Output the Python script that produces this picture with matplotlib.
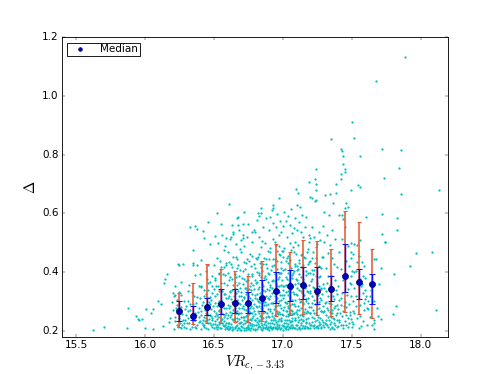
import numpy as np
import matplotlib
matplotlib.use("Agg")
import matplotlib.pyplot as plt

plt.style.use('classic')

# bin centres and statistics per bin
bin_mid = [16.25, 16.35, 16.45, 16.55, 16.65, 16.75, 16.85, 16.95,
           17.05, 17.15, 17.25, 17.35, 17.45, 17.55, 17.65]
median = [0.266, 0.250, 0.282, 0.290, 0.295, 0.293, 0.312, 0.337,
          0.352, 0.355, 0.335, 0.343, 0.385, 0.367, 0.359]
# inner (blue) range
inner_lo = [0.234, 0.236, 0.253, 0.257, 0.259, 0.259, 0.268, 0.296,
            0.302, 0.308, 0.291, 0.300, 0.333, 0.307, 0.290]
inner_hi = [0.302, 0.286, 0.310, 0.343, 0.341, 0.333, 0.373, 0.401,
            0.407, 0.418, 0.418, 0.386, 0.494, 0.409, 0.393]
# outer (red) range
outer_lo = [0.214, 0.223, 0.227, 0.227, 0.230, 0.230, 0.234, 0.250,
            0.253, 0.257, 0.253, 0.250, 0.264, 0.257, 0.244]
outer_hi = [0.329, 0.363, 0.427, 0.409, 0.404, 0.388, 0.438, 0.494,
            0.469, 0.511, 0.506, 0.477, 0.609, 0.570, 0.480]

# individual objects (VR, Delta)
sparse_pts = [
    (15.62, 0.203), (15.70, 0.213), (15.87, 0.208), (15.88, 0.278), (15.934, 0.25),
    (15.951, 0.239), (15.978, 0.24), (15.96, 0.236), (16.002, 0.208), (16.007, 0.273),
    (16.044, 0.261), (16.055, 0.273), (16.06, 0.205), (16.092, 0.301), (16.116, 0.291),
    (16.128, 0.216), (16.14, 0.363), (16.146, 0.375), (16.16, 0.394), (16.177, 0.231),
    (16.184, 0.245), (16.196, 0.299), (16.2, 0.327), (16.218, 0.322), (16.245, 0.424),
    (16.274, 0.427), (16.349, 0.432), (16.349, 0.423), (16.613, 0.631), (16.626, 0.52),
    (16.64, 0.537), (16.672, 0.588), (16.672, 0.56), (16.694, 0.508), (16.71, 0.564),
    (16.713, 0.515), (16.715, 0.604), (16.776, 0.537), (16.822, 0.603), (16.829, 0.59),
    (16.841, 0.62), (16.926, 0.63), (16.931, 0.617), (16.975, 0.651), (17.096, 0.682),
    (17.106, 0.627), (17.113, 0.67), (17.123, 0.622), (17.189, 0.707), (17.196, 0.656),
    (17.215, 0.652), (17.232, 0.717), (17.232, 0.642), (17.24, 0.752), (17.24, 0.644),
    (17.244, 0.699), (17.244, 0.679), (17.298, 0.604), (17.307, 0.663), (17.332, 0.596),
    (17.341, 0.665), (17.349, 0.853), (17.365, 0.635), (17.383, 0.669), (17.385, 0.70),
    (17.407, 0.595), (17.419, 0.82), (17.419, 0.734), (17.419, 0.718), (17.429, 0.814),
    (17.429, 0.595), (17.434, 0.769), (17.438, 0.797), (17.448, 0.741), (17.448, 0.617),
    (17.45, 0.751), (17.458, 0.637), (17.47, 0.621), (17.494, 0.68), (17.504, 0.912),
    (17.514, 0.858), (17.545, 0.698), (17.557, 0.797), (17.557, 0.69), (17.56, 0.508),
    (17.603, 0.588), (17.676, 1.05), (17.717, 0.82), (17.717, 0.529), (17.722, 0.597),
    (17.732, 0.72), (17.739, 0.503), (17.742, 0.503), (17.826, 0.543), (17.829, 0.583),
    (17.841, 0.755), (17.856, 0.815), (17.86, 0.665), (17.889, 1.133), (18.13, 0.679),
    (17.967, 0.466), (18.081, 0.469), (17.924, 0.421), (17.807, 0.394), (17.712, 0.414),
    (17.676, 0.444), (17.659, 0.443), (17.698, 0.36), (17.819, 0.283), (17.802, 0.258),
    (18.113, 0.269), (17.693, 0.249), (17.71, 0.239), (17.662, 0.235), (17.649, 0.219),
    (17.662, 0.206), (17.492, 0.50), (17.516, 0.495), (17.54, 0.491), (17.492, 0.467),
    (17.511, 0.46), (17.492, 0.447), (17.536, 0.433), (17.589, 0.421), (17.576, 0.435),
    (17.504, 0.404), (17.516, 0.399), (17.492, 0.387), (17.584, 0.387), (17.56, 0.376),
    (17.492, 0.361), (17.516, 0.344), (17.572, 0.36), (17.596, 0.339), (17.584, 0.327),
    (17.601, 0.319), (17.492, 0.32), (17.511, 0.302), (17.531, 0.286), (17.511, 0.268),
    (17.596, 0.307), (17.589, 0.293), (17.608, 0.276), (17.56, 0.25), (17.504, 0.231),
    (17.499, 0.212), (17.62, 0.275), (17.633, 0.318),
]

core_pts = [
    # 16.2 - 16.3
    (16.21, 0.205), (16.22, 0.232), (16.23, 0.262), (16.24, 0.214), (16.25, 0.245), (16.26, 0.281),
    (16.27, 0.221), (16.28, 0.302), (16.29, 0.236), (16.21, 0.318), (16.23, 0.289), (16.26, 0.209),
    (16.27, 0.257), (16.28, 0.226), (16.22, 0.352), (16.25, 0.331), (16.29, 0.273), (16.24, 0.428),
    (16.26, 0.366), (16.28, 0.212), (16.20, 0.271), (16.23, 0.219),
    # 16.3 - 16.4
    (16.30, 0.208), (16.31, 0.243), (16.32, 0.226), (16.33, 0.269), (16.34, 0.212), (16.35, 0.291),
    (16.36, 0.236), (16.37, 0.254), (16.38, 0.218), (16.39, 0.276), (16.31, 0.302), (16.33, 0.205),
    (16.34, 0.331), (16.36, 0.262), (16.37, 0.210), (16.38, 0.314), (16.39, 0.229), (16.32, 0.357),
    (16.35, 0.224), (16.36, 0.389), (16.38, 0.425), (16.33, 0.552), (16.36, 0.557), (16.38, 0.548),
    (16.35, 0.475), (16.31, 0.266), (16.39, 0.351), (16.34, 0.245), (16.37, 0.296), (16.30, 0.283),
    # 16.4 - 16.5
    (16.40, 0.232), (16.41, 0.205), (16.41, 0.266), (16.42, 0.298), (16.42, 0.221), (16.43, 0.248),
    (16.43, 0.339), (16.44, 0.210), (16.44, 0.284), (16.45, 0.237), (16.45, 0.315), (16.46, 0.255),
    (16.46, 0.207), (16.47, 0.366), (16.47, 0.228), (16.48, 0.273), (16.48, 0.304), (16.49, 0.214),
    (16.49, 0.245), (16.40, 0.392), (16.41, 0.442), (16.42, 0.541), (16.43, 0.515), (16.44, 0.404),
    (16.45, 0.376), (16.46, 0.424), (16.47, 0.291), (16.48, 0.218), (16.49, 0.328), (16.46, 0.338),
    (16.44, 0.260), (16.42, 0.236), (16.40, 0.311), (16.45, 0.271), (16.47, 0.495), (16.49, 0.387),
    (16.43, 0.219), (16.48, 0.249), (16.41, 0.354), (16.46, 0.570),
    # 16.5 - 16.6
    (16.50, 0.211), (16.50, 0.268), (16.51, 0.233), (16.51, 0.318), (16.52, 0.205), (16.52, 0.286),
    (16.53, 0.247), (16.53, 0.352), (16.54, 0.223), (16.54, 0.301), (16.55, 0.262), (16.55, 0.209),
    (16.56, 0.334), (16.56, 0.241), (16.57, 0.215), (16.57, 0.279), (16.58, 0.391), (16.58, 0.254),
    (16.59, 0.227), (16.59, 0.312), (16.50, 0.425), (16.51, 0.374), (16.52, 0.447), (16.53, 0.212),
    (16.54, 0.268), (16.55, 0.418), (16.56, 0.226), (16.57, 0.363), (16.58, 0.205), (16.59, 0.432),
    (16.50, 0.342), (16.52, 0.239), (16.54, 0.395), (16.56, 0.293), (16.58, 0.324), (16.51, 0.522),
    (16.53, 0.498), (16.55, 0.563), (16.57, 0.475), (16.59, 0.515), (16.52, 0.603), (16.56, 0.525),
    (16.58, 0.488), (16.53, 0.296), (16.55, 0.238), (16.57, 0.247), (16.59, 0.262), (16.51, 0.251),
    (16.54, 0.336), (16.58, 0.218),
    # 16.6 - 16.7
    (16.60, 0.205), (16.60, 0.252), (16.60, 0.311), (16.61, 0.228), (16.61, 0.279), (16.61, 0.374),
    (16.62, 0.212), (16.62, 0.264), (16.62, 0.336), (16.63, 0.241), (16.63, 0.298), (16.63, 0.418),
    (16.64, 0.207), (16.64, 0.272), (16.64, 0.356), (16.65, 0.231), (16.65, 0.288), (16.65, 0.395),
    (16.66, 0.215), (16.66, 0.259), (16.66, 0.327), (16.67, 0.243), (16.67, 0.306), (16.67, 0.443),
    (16.68, 0.209), (16.68, 0.276), (16.68, 0.364), (16.69, 0.226), (16.69, 0.292), (16.69, 0.408),
    (16.60, 0.468), (16.62, 0.512), (16.63, 0.559), (16.64, 0.531), (16.66, 0.494), (16.68, 0.543),
    (16.69, 0.478), (16.61, 0.433), (16.65, 0.345), (16.67, 0.218), (16.62, 0.384), (16.64, 0.236),
    (16.66, 0.384), (16.68, 0.241), (16.60, 0.227), (16.63, 0.203), (16.65, 0.264), (16.67, 0.268),
    (16.69, 0.203), (16.61, 0.319), (16.66, 0.452), (16.68, 0.318), (16.64, 0.453), (16.62, 0.285),
    (16.67, 0.356), (16.69, 0.345), (16.63, 0.339), (16.65, 0.212), (16.61, 0.205), (16.67, 0.583),
    # 16.7 - 16.8
    (16.70, 0.204), (16.70, 0.261), (16.70, 0.333), (16.71, 0.222), (16.71, 0.286), (16.71, 0.402),
    (16.72, 0.208), (16.72, 0.247), (16.72, 0.311), (16.73, 0.233), (16.73, 0.272), (16.73, 0.371),
    (16.74, 0.214), (16.74, 0.295), (16.74, 0.446), (16.75, 0.238), (16.75, 0.319), (16.75, 0.206),
    (16.76, 0.226), (16.76, 0.264), (16.76, 0.352), (16.77, 0.211), (16.77, 0.283), (16.77, 0.421),
    (16.78, 0.244), (16.78, 0.304), (16.78, 0.388), (16.79, 0.219), (16.79, 0.268), (16.79, 0.341),
    (16.70, 0.467), (16.72, 0.489), (16.74, 0.518), (16.75, 0.565), (16.76, 0.462), (16.78, 0.503),
    (16.79, 0.544), (16.71, 0.361), (16.73, 0.204), (16.75, 0.392), (16.77, 0.237), (16.79, 0.426),
    (16.70, 0.229), (16.72, 0.378), (16.74, 0.253), (16.76, 0.203), (16.78, 0.215), (16.71, 0.248),
    (16.73, 0.324), (16.75, 0.276), (16.77, 0.339), (16.79, 0.292), (16.72, 0.274), (16.74, 0.338),
    (16.76, 0.297), (16.78, 0.456), (16.73, 0.432), (16.71, 0.526), (16.77, 0.362), (16.75, 0.221),
    # 16.8 - 16.9
    (16.80, 0.207), (16.80, 0.256), (16.80, 0.322), (16.80, 0.414), (16.81, 0.229), (16.81, 0.281),
    (16.81, 0.367), (16.82, 0.213), (16.82, 0.268), (16.82, 0.343), (16.82, 0.452), (16.83, 0.236),
    (16.83, 0.298), (16.83, 0.391), (16.84, 0.205), (16.84, 0.253), (16.84, 0.316), (16.84, 0.487),
    (16.85, 0.221), (16.85, 0.277), (16.85, 0.358), (16.86, 0.243), (16.86, 0.303), (16.86, 0.428),
    (16.87, 0.211), (16.87, 0.264), (16.87, 0.334), (16.88, 0.232), (16.88, 0.289), (16.88, 0.376),
    (16.89, 0.208), (16.89, 0.251), (16.89, 0.312), (16.89, 0.471), (16.80, 0.536), (16.81, 0.578),
    (16.83, 0.521), (16.84, 0.603), (16.85, 0.507), (16.86, 0.552), (16.87, 0.498), (16.88, 0.586),
    (16.81, 0.444), (16.83, 0.215), (16.85, 0.403), (16.87, 0.231), (16.89, 0.398), (16.82, 0.223),
    (16.84, 0.382), (16.86, 0.212), (16.88, 0.218), (16.80, 0.238), (16.83, 0.262), (16.85, 0.246),
    (16.87, 0.385), (16.89, 0.274), (16.81, 0.326), (16.86, 0.352), (16.88, 0.445), (16.84, 0.276),
    (16.82, 0.301), (16.87, 0.297), (16.85, 0.204), (16.83, 0.348), (16.86, 0.268),
    # 16.9 - 17.0
    (16.90, 0.203), (16.90, 0.248), (16.90, 0.307), (16.90, 0.392), (16.91, 0.226), (16.91, 0.275),
    (16.91, 0.349), (16.91, 0.468), (16.92, 0.211), (16.92, 0.262), (16.92, 0.327), (16.92, 0.421),
    (16.93, 0.237), (16.93, 0.293), (16.93, 0.372), (16.93, 0.512), (16.94, 0.208), (16.94, 0.254),
    (16.94, 0.318), (16.94, 0.446), (16.95, 0.229), (16.95, 0.284), (16.95, 0.361), (16.95, 0.492),
    (16.96, 0.216), (16.96, 0.267), (16.96, 0.338), (16.96, 0.409), (16.97, 0.241), (16.97, 0.301),
    (16.97, 0.384), (16.97, 0.527), (16.98, 0.205), (16.98, 0.258), (16.98, 0.322), (16.98, 0.459),
    (16.99, 0.233), (16.99, 0.279), (16.99, 0.355), (16.99, 0.434), (16.90, 0.542), (16.91, 0.587),
    (16.92, 0.611), (16.93, 0.568), (16.95, 0.553), (16.96, 0.597), (16.98, 0.573), (16.99, 0.538),
    (16.90, 0.443), (16.92, 0.226), (16.94, 0.392), (16.96, 0.224), (16.98, 0.398), (16.91, 0.214),
    (16.93, 0.214), (16.95, 0.211), (16.97, 0.218), (16.99, 0.209), (16.90, 0.338), (16.92, 0.371),
    (16.94, 0.283), (16.96, 0.471), (16.98, 0.288), (16.91, 0.318), (16.93, 0.446), (16.95, 0.329),
    (16.97, 0.352), (16.99, 0.398), (16.94, 0.501), (16.97, 0.463),
    # 17.0 - 17.1
    (17.00, 0.204), (17.00, 0.252), (17.00, 0.313), (17.00, 0.406), (17.01, 0.227), (17.01, 0.281),
    (17.01, 0.354), (17.01, 0.482), (17.02, 0.212), (17.02, 0.266), (17.02, 0.332), (17.02, 0.437),
    (17.03, 0.238), (17.03, 0.296), (17.03, 0.378), (17.03, 0.521), (17.04, 0.207), (17.04, 0.257),
    (17.04, 0.321), (17.04, 0.456), (17.05, 0.231), (17.05, 0.288), (17.05, 0.364), (17.05, 0.499),
    (17.06, 0.218), (17.06, 0.271), (17.06, 0.342), (17.06, 0.415), (17.07, 0.244), (17.07, 0.305),
    (17.07, 0.389), (17.07, 0.533), (17.08, 0.209), (17.08, 0.262), (17.08, 0.326), (17.08, 0.468),
    (17.09, 0.235), (17.09, 0.284), (17.09, 0.358), (17.09, 0.428), (17.00, 0.558), (17.01, 0.604),
    (17.02, 0.575), (17.04, 0.592), (17.05, 0.562), (17.06, 0.615), (17.08, 0.551), (17.09, 0.583),
    (17.00, 0.354), (17.02, 0.228), (17.04, 0.396), (17.06, 0.232), (17.08, 0.402), (17.01, 0.216),
    (17.03, 0.215), (17.05, 0.213), (17.07, 0.219), (17.09, 0.211), (17.00, 0.452), (17.02, 0.384),
    (17.04, 0.284), (17.06, 0.476), (17.08, 0.291), (17.01, 0.321), (17.03, 0.447), (17.05, 0.331),
    (17.07, 0.352), (17.09, 0.502), (17.03, 0.268), (17.07, 0.268),
    # 17.1 - 17.2
    (17.10, 0.206), (17.10, 0.258), (17.10, 0.321), (17.10, 0.419), (17.11, 0.229), (17.11, 0.286),
    (17.11, 0.362), (17.11, 0.491), (17.12, 0.213), (17.12, 0.269), (17.12, 0.338), (17.12, 0.442),
    (17.13, 0.241), (17.13, 0.302), (17.13, 0.384), (17.14, 0.208), (17.14, 0.255), (17.14, 0.327),
    (17.14, 0.463), (17.15, 0.232), (17.15, 0.291), (17.15, 0.371), (17.15, 0.518), (17.16, 0.217),
    (17.16, 0.274), (17.16, 0.346), (17.17, 0.239), (17.17, 0.309), (17.17, 0.402), (17.18, 0.211),
    (17.18, 0.264), (17.18, 0.333), (17.18, 0.478), (17.19, 0.228), (17.19, 0.281), (17.19, 0.355),
    (17.10, 0.545), (17.12, 0.572), (17.13, 0.538), (17.14, 0.596), (17.16, 0.553), (17.17, 0.587),
    (17.19, 0.527), (17.11, 0.412), (17.13, 0.219), (17.15, 0.425), (17.17, 0.226), (17.19, 0.433),
    (17.12, 0.394), (17.14, 0.384), (17.16, 0.448), (17.18, 0.397), (17.11, 0.247), (17.13, 0.458),
    (17.15, 0.251), (17.17, 0.352), (17.19, 0.503), (17.10, 0.372), (17.16, 0.211), (17.18, 0.295),
    # 17.2 - 17.3
    (17.20, 0.208), (17.20, 0.262), (17.20, 0.334), (17.20, 0.437), (17.21, 0.231), (17.21, 0.293),
    (17.21, 0.378), (17.22, 0.215), (17.22, 0.271), (17.22, 0.349), (17.22, 0.468), (17.23, 0.243),
    (17.23, 0.306), (17.23, 0.406), (17.24, 0.212), (17.24, 0.259), (17.24, 0.324), (17.25, 0.236),
    (17.25, 0.289), (17.25, 0.362), (17.25, 0.495), (17.26, 0.219), (17.26, 0.276), (17.26, 0.421),
    (17.27, 0.245), (17.27, 0.312), (17.27, 0.388), (17.28, 0.209), (17.28, 0.266), (17.28, 0.341),
    (17.29, 0.229), (17.29, 0.284), (17.29, 0.452), (17.20, 0.516), (17.21, 0.552), (17.23, 0.521),
    (17.24, 0.487), (17.26, 0.538), (17.27, 0.508), (17.29, 0.558), (17.21, 0.448), (17.23, 0.218),
    (17.25, 0.214), (17.27, 0.223), (17.22, 0.392), (17.24, 0.386), (17.26, 0.354), (17.28, 0.413),
    (17.24, 0.448), (17.28, 0.305),
    # 17.3 - 17.4
    (17.30, 0.212), (17.30, 0.268), (17.30, 0.345), (17.31, 0.236), (17.31, 0.298), (17.31, 0.414),
    (17.32, 0.218), (17.32, 0.279), (17.32, 0.362), (17.33, 0.247), (17.33, 0.318), (17.33, 0.465),
    (17.34, 0.207), (17.34, 0.263), (17.34, 0.337), (17.35, 0.229), (17.35, 0.291), (17.35, 0.391),
    (17.36, 0.214), (17.36, 0.272), (17.36, 0.448), (17.37, 0.241), (17.37, 0.309), (17.38, 0.221),
    (17.38, 0.284), (17.38, 0.372), (17.39, 0.235), (17.39, 0.326), (17.30, 0.504), (17.32, 0.528),
    (17.34, 0.492), (17.36, 0.545), (17.38, 0.512), (17.33, 0.387), (17.37, 0.426), (17.39, 0.418),
    (17.31, 0.224), (17.35, 0.248), (17.37, 0.205), (17.39, 0.262),
    # 17.4 - 17.5
    (17.40, 0.215), (17.40, 0.274), (17.40, 0.352), (17.41, 0.238), (17.41, 0.306), (17.42, 0.221),
    (17.42, 0.288), (17.42, 0.412), (17.43, 0.249), (17.43, 0.327), (17.44, 0.209), (17.44, 0.266),
    (17.44, 0.374), (17.45, 0.232), (17.45, 0.298), (17.46, 0.218), (17.46, 0.281), (17.46, 0.438),
    (17.47, 0.244), (17.47, 0.341), (17.48, 0.226), (17.48, 0.292), (17.49, 0.253), (17.49, 0.362),
    (17.41, 0.468), (17.43, 0.512), (17.45, 0.552), (17.47, 0.489), (17.44, 0.582), (17.48, 0.421),
    # 17.5 - 17.7
    (17.51, 0.223), (17.52, 0.261), (17.53, 0.318), (17.54, 0.245), (17.55, 0.209), (17.56, 0.287),
    (17.57, 0.352), (17.58, 0.232), (17.59, 0.271), (17.61, 0.218), (17.62, 0.302), (17.63, 0.246),
    (17.64, 0.338), (17.66, 0.226), (17.68, 0.278), (17.53, 0.402), (17.57, 0.216), (17.60, 0.381),
    (17.55, 0.456), (17.66, 0.301),
]

# second pass over the crowded part of the cloud
dense_pts = [
    (16.215, 0.248), (16.235, 0.305), (16.255, 0.226), (16.275, 0.238), (16.295, 0.252),
    (16.305, 0.228), (16.325, 0.292), (16.345, 0.232), (16.365, 0.214), (16.385, 0.263),
    (16.225, 0.276), (16.265, 0.323), (16.315, 0.336), (16.355, 0.318), (16.395, 0.247),
    (16.405, 0.252), (16.415, 0.289), (16.425, 0.214), (16.435, 0.271), (16.445, 0.325),
    (16.455, 0.228), (16.465, 0.297), (16.475, 0.253), (16.485, 0.351), (16.495, 0.222),
    (16.405, 0.349), (16.415, 0.226), (16.425, 0.318), (16.435, 0.233), (16.445, 0.244),
    (16.455, 0.362), (16.465, 0.241), (16.475, 0.314), (16.485, 0.236), (16.495, 0.284),
    (16.505, 0.224), (16.505, 0.296), (16.515, 0.262), (16.515, 0.351), (16.525, 0.218),
    (16.525, 0.324), (16.535, 0.271), (16.535, 0.397), (16.545, 0.246), (16.545, 0.209),
    (16.555, 0.305), (16.555, 0.362), (16.565, 0.258), (16.565, 0.218), (16.575, 0.326),
    (16.575, 0.234), (16.585, 0.279), (16.585, 0.423), (16.595, 0.243), (16.595, 0.357),
    (16.505, 0.381), (16.525, 0.255), (16.545, 0.437), (16.565, 0.392), (16.585, 0.212),
    (16.515, 0.214), (16.535, 0.231), (16.555, 0.281), (16.575, 0.417), (16.595, 0.208),
    (16.605, 0.217), (16.605, 0.289), (16.605, 0.398), (16.615, 0.246), (16.615, 0.331),
    (16.625, 0.224), (16.625, 0.307), (16.625, 0.427), (16.635, 0.262), (16.635, 0.214),
    (16.635, 0.376), (16.645, 0.239), (16.645, 0.318), (16.655, 0.209), (16.655, 0.276),
    (16.655, 0.367), (16.665, 0.233), (16.665, 0.296), (16.665, 0.414), (16.675, 0.211),
    (16.675, 0.257), (16.675, 0.336), (16.685, 0.228), (16.685, 0.293), (16.685, 0.386),
    (16.695, 0.247), (16.695, 0.318), (16.695, 0.216), (16.615, 0.209), (16.645, 0.274),
    (16.655, 0.243), (16.665, 0.204), (16.675, 0.425), (16.685, 0.262), (16.625, 0.252),
    (16.705, 0.212), (16.705, 0.279), (16.705, 0.381), (16.715, 0.238), (16.715, 0.316),
    (16.715, 0.203), (16.725, 0.226), (16.725, 0.291), (16.725, 0.412), (16.735, 0.251),
    (16.735, 0.211), (16.735, 0.347), (16.745, 0.231), (16.745, 0.268), (16.745, 0.374),
    (16.755, 0.209), (16.755, 0.256), (16.755, 0.341), (16.765, 0.239), (16.765, 0.312),
    (16.765, 0.218), (16.775, 0.224), (16.775, 0.262), (16.775, 0.394), (16.785, 0.207),
    (16.785, 0.278), (16.785, 0.355), (16.795, 0.236), (16.795, 0.311), (16.795, 0.204),
    (16.705, 0.305), (16.725, 0.347), (16.745, 0.213), (16.765, 0.276), (16.785, 0.249),
    (16.715, 0.433), (16.735, 0.292), (16.755, 0.437), (16.775, 0.324), (16.795, 0.372),
    (16.805, 0.218), (16.805, 0.284), (16.805, 0.364), (16.815, 0.206), (16.815, 0.245),
    (16.815, 0.309), (16.825, 0.234), (16.825, 0.284), (16.825, 0.397), (16.835, 0.212),
    (16.835, 0.251), (16.835, 0.327), (16.845, 0.227), (16.845, 0.296), (16.845, 0.418),
    (16.855, 0.209), (16.855, 0.262), (16.855, 0.339), (16.865, 0.224), (16.865, 0.287),
    (16.865, 0.381), (16.875, 0.214), (16.875, 0.248), (16.875, 0.318), (16.885, 0.206),
    (16.885, 0.261), (16.885, 0.343), (16.895, 0.228), (16.895, 0.291), (16.895, 0.367),
    (16.805, 0.448), (16.825, 0.462), (16.845, 0.239), (16.865, 0.448), (16.885, 0.413),
    (16.815, 0.401), (16.835, 0.431), (16.855, 0.298), (16.875, 0.426), (16.895, 0.213),
    (16.905, 0.215), (16.905, 0.268), (16.905, 0.356), (16.905, 0.482), (16.915, 0.237),
    (16.915, 0.294), (16.915, 0.407), (16.925, 0.206), (16.925, 0.251), (16.925, 0.344),
    (16.935, 0.224), (16.935, 0.274), (16.935, 0.424), (16.945, 0.238), (16.945, 0.302),
    (16.945, 0.368), (16.955, 0.207), (16.955, 0.259), (16.955, 0.313), (16.955, 0.437),
    (16.965, 0.233), (16.965, 0.289), (16.965, 0.378), (16.975, 0.212), (16.975, 0.264),
    (16.975, 0.331), (16.975, 0.488), (16.985, 0.236), (16.985, 0.304), (16.985, 0.415),
    (16.995, 0.219), (16.995, 0.258), (16.995, 0.321), (16.995, 0.473), (16.915, 0.208),
    (16.925, 0.294), (16.935, 0.332), (16.945, 0.213), (16.955, 0.352), (16.965, 0.211),
    (16.975, 0.396), (16.985, 0.243), (16.995, 0.372), (16.935, 0.244), (16.965, 0.256),
    (17.005, 0.216), (17.005, 0.269), (17.005, 0.338), (17.005, 0.471), (17.015, 0.238),
    (17.015, 0.297), (17.015, 0.412), (17.025, 0.205), (17.025, 0.249), (17.025, 0.356),
    (17.035, 0.224), (17.035, 0.276), (17.035, 0.431), (17.045, 0.238), (17.045, 0.303),
    (17.045, 0.372), (17.055, 0.208), (17.055, 0.261), (17.055, 0.316), (17.055, 0.441),
    (17.065, 0.234), (17.065, 0.291), (17.065, 0.381), (17.075, 0.212), (17.075, 0.256),
    (17.075, 0.332), (17.075, 0.484), (17.085, 0.237), (17.085, 0.306), (17.085, 0.419),
    (17.095, 0.221), (17.095, 0.264), (17.095, 0.324), (17.095, 0.461), (17.015, 0.208),
    (17.025, 0.296), (17.035, 0.335), (17.045, 0.214), (17.055, 0.352), (17.065, 0.211),
    (17.075, 0.398), (17.085, 0.245), (17.095, 0.378), (17.035, 0.249), (17.065, 0.258),
    (17.105, 0.218), (17.105, 0.272), (17.105, 0.344), (17.115, 0.238), (17.115, 0.309),
    (17.115, 0.431), (17.125, 0.206), (17.125, 0.253), (17.125, 0.358), (17.135, 0.226),
    (17.135, 0.279), (17.135, 0.416), (17.145, 0.237), (17.145, 0.294), (17.145, 0.376),
    (17.155, 0.209), (17.155, 0.263), (17.155, 0.321), (17.155, 0.452), (17.165, 0.231),
    (17.165, 0.302), (17.165, 0.389), (17.175, 0.214), (17.175, 0.266), (17.175, 0.337),
    (17.185, 0.242), (17.185, 0.311), (17.185, 0.426), (17.195, 0.219), (17.195, 0.261),
    (17.195, 0.398), (17.115, 0.211), (17.125, 0.299), (17.135, 0.334), (17.145, 0.215),
    (17.165, 0.259), (17.175, 0.468), (17.185, 0.209), (17.195, 0.329), (17.105, 0.408),
    (17.205, 0.221), (17.205, 0.281), (17.205, 0.369), (17.215, 0.246), (17.215, 0.318),
    (17.225, 0.209), (17.225, 0.262), (17.225, 0.347), (17.235, 0.233), (17.235, 0.291),
    (17.235, 0.431), (17.245, 0.216), (17.245, 0.274), (17.255, 0.248), (17.255, 0.322),
    (17.255, 0.211), (17.265, 0.231), (17.265, 0.297), (17.265, 0.384), (17.275, 0.214),
    (17.275, 0.268), (17.285, 0.238), (17.285, 0.326), (17.295, 0.219), (17.295, 0.263),
    (17.295, 0.358), (17.215, 0.406), (17.245, 0.342), (17.275, 0.346), (17.285, 0.452),
    (17.305, 0.226), (17.305, 0.294), (17.315, 0.252), (17.315, 0.337), (17.325, 0.213),
    (17.325, 0.271), (17.335, 0.235), (17.335, 0.296), (17.345, 0.224), (17.345, 0.356),
    (17.355, 0.262), (17.355, 0.209), (17.365, 0.243), (17.365, 0.318), (17.375, 0.226),
    (17.375, 0.276), (17.385, 0.254), (17.385, 0.338), (17.395, 0.214), (17.395, 0.288),
    (17.405, 0.229), (17.415, 0.262), (17.425, 0.311), (17.435, 0.218), (17.445, 0.286),
    (17.455, 0.252), (17.465, 0.322), (17.475, 0.214), (17.485, 0.264), (17.495, 0.239),
]

pts = np.array(sparse_pts + core_pts + dense_pts)
med = np.array(median)
err_in = [med - np.array(inner_lo), np.array(inner_hi) - med]
err_out = [med - np.array(outer_lo), np.array(outer_hi) - med]

fig = plt.figure(figsize=(8.0, 374 / 62.25), dpi=62.25)
ax = fig.add_axes([0.125, 0.1, 0.775, 0.8])

ax.plot(pts[:, 0], pts[:, 1], 'o', color='c', ms=2.6, mec='none')

# wide range in red behind, quartile-like range in blue
ax.errorbar(bin_mid, median, yerr=err_out, fmt='none', ecolor='#ea5530',
            elinewidth=1.8, capsize=2.2, capthick=1.3)
ax.errorbar(bin_mid, median, yerr=err_in, fmt='none', ecolor='#1010ff',
            elinewidth=1.7, capsize=4, capthick=1.2)
ax.plot(bin_mid, median, 'o', color='#0000cc', mec='#000040', mew=0.8,
        ms=7, label='Median')

ax.set_xlim(15.4, 18.2)
ax.set_ylim(0.18, 1.2)
ax.set_xticks([15.5, 16.0, 16.5, 17.0, 17.5, 18.0])
ax.set_yticks([0.2, 0.4, 0.6, 0.8, 1.0, 1.2])
ax.set_xlabel(r'$VR_{c,-3.43}$', fontsize=17)
ax.set_ylabel(r'$\Delta$', fontsize=17)

ax.legend(loc='upper left', numpoints=1, markerscale=0.6, fontsize=12,
          borderpad=0.15, handlelength=2.2, handletextpad=0.8,
          borderaxespad=0.5, fancybox=False)

fig.savefig('out.png', dpi=62.25)
